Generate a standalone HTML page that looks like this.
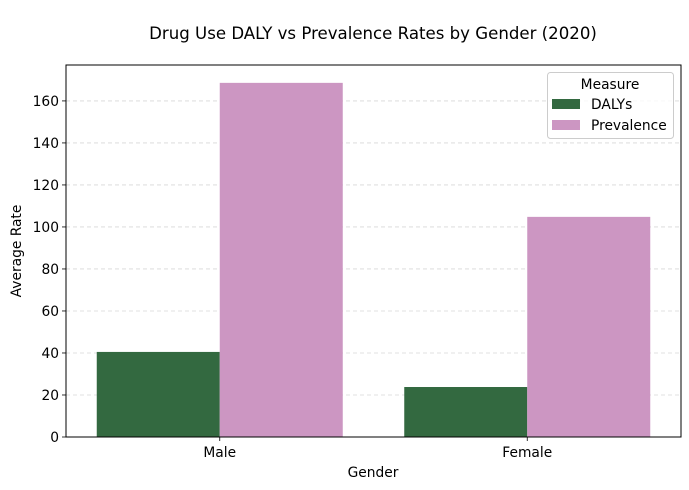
<!DOCTYPE html>
<html><head><meta charset="utf-8"><style>
html,body{margin:0;padding:0;background:#fff;}
svg{display:block;font-family:"DejaVu Sans","Liberation Sans",sans-serif;}
</style></head><body>
<svg id="chart" width="689" height="490" xmlns="http://www.w3.org/2000/svg"></svg>
<script>
const categories = ["Male", "Female"];
const seriesNames = ["DALYs", "Prevalence"];
const dalys = [40.5, 23.8];
const prevalence = [168.6, 104.8];
const yTicks = [0, 20, 40, 60, 80, 100, 120, 140, 160];
const colors = ["#336940", "#cc96c2"];

const svg = document.getElementById('chart');
const NS = "http://www.w3.org/2000/svg";
const L = 66, R = 681, T = 65, B = 437;
const yMax = 177.1;
const FS = 13.8;
function y(v){ return B - v / yMax * (B - T); }
function x(i){ return L + (i + 0.5) / categories.length * (R - L); }
const catW = (R - L) / categories.length;
function mk(tag, attrs, text){
  const e = document.createElementNS(NS, tag);
  for (const k in attrs) e.setAttribute(k, attrs[k]);
  if (text !== undefined) e.textContent = text;
  svg.appendChild(e);
  return e;
}
let t = mk('text', {x: 373, y: 39, 'text-anchor': 'middle', 'font-size': 16.6, fill: '#000'}, 'Drug Use DALY vs Prevalence Rates by Gender (2020)');


yTicks.forEach(v => {
  const g = mk('line', {x1: L, x2: R, y1: y(v), y2: y(v), stroke: '#b0b0b0', 'stroke-width': 0.8, 'stroke-dasharray': '4,3', 'stroke-opacity': 0.5});
  
  
  mk('line', {x1: L - 4, x2: L, y1: y(v), y2: y(v), stroke: '#000', 'stroke-width': 0.8});
  const lb = mk('text', {x: L - 7, y: y(v) + 5, 'text-anchor': 'end', 'font-size': FS, fill: '#000'}, String(v));
  
  
});
const series = [dalys, prevalence];
series.forEach((vals, s) => {
  vals.forEach((v, i) => {
    const bw = catW * 0.4;
    const bx = x(i) - bw + s * bw;
    const r = mk('rect', {x: bx, y: y(v), width: bw, height: B - y(v), fill: colors[s]});
    
    
  });
});
categories.forEach((c, i) => {
  mk('line', {x1: x(i), x2: x(i), y1: B, y2: B + 4, stroke: '#000', 'stroke-width': 0.8});
  const lb = mk('text', {x: x(i), y: B + 20, 'text-anchor': 'middle', 'font-size': FS, fill: '#000'}, c);
  
  
});
const fr = mk('rect', {x: L, y: T, width: R - L, height: B - T, fill: 'none', stroke: '#000', 'stroke-width': 1});


const xt = mk('text', {x: 373, y: 477, 'text-anchor': 'middle', 'font-size': FS, fill: '#000'}, 'Gender');


const yt = mk('text', {x: 0, y: 0, 'text-anchor': 'middle', 'font-size': FS, fill: '#000', transform: 'translate(21,251) rotate(-90)'}, 'Average Rate');


const lg = mk('rect', {x: 547.5, y: 72.5, width: 126, height: 66, rx: 3, fill: '#fff', 'fill-opacity': 0.8, stroke: '#ccc', 'stroke-width': 1});


const lt = mk('text', {x: 610, y: 89, 'text-anchor': 'middle', 'font-size': FS, fill: '#000'}, 'Measure');


seriesNames.forEach((n, s) => {
  const yy = 99 + s * 21;
  const sw = mk('rect', {x: 552, y: yy, width: 28, height: 10, fill: colors[s]});
  
  
  const tx = mk('text', {x: 591, y: yy + 10, 'font-size': FS, fill: '#000'}, n);
  
  
});
</script>
</body></html>
